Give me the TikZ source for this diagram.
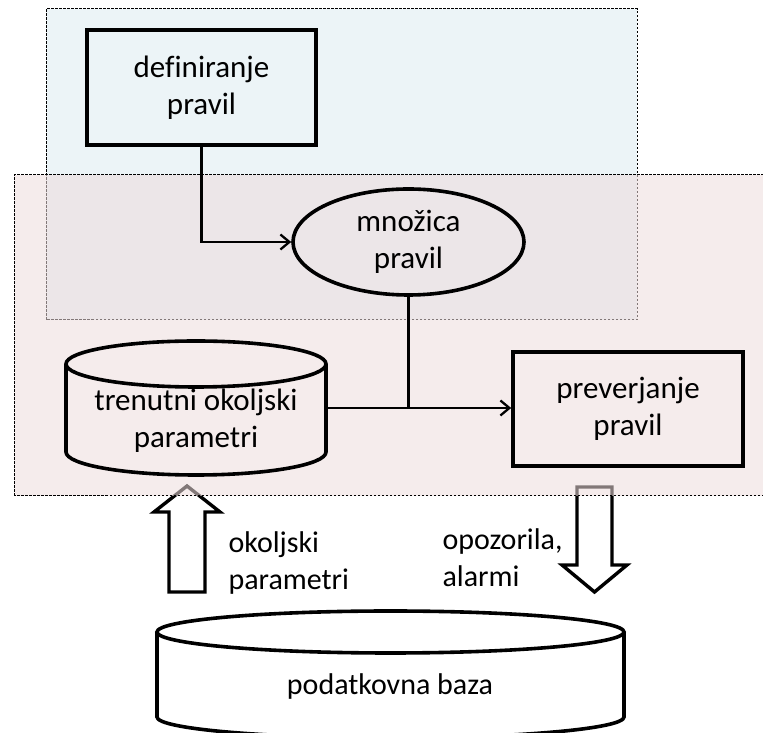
\documentclass[tikz,border=0pt]{standalone}
\usepackage{fontspec}
\setmainfont{Carlito}[Ligatures=NoCommon]
\usetikzlibrary{arrows.meta,shapes.geometric}
\definecolor{bluebg}{RGB}{236,244,247}
\definecolor{pinkbg}{RGB}{237,220,220}
\begin{document}
\begin{tikzpicture}[x=1pt,y=1pt,
 txt/.style={font=\fontsize{31}{37}\selectfont, align=center},
 labtxt/.style={font=\fontsize{30}{37}\selectfont, align=left},
 thickbox/.style={draw, line width=3.6pt, rectangle, txt, inner sep=0pt},
 conn/.style={line width=2.3pt, -{Straight Barb[length=9pt,width=15pt,line width=2.3pt]}},
 plainline/.style={line width=2.3pt},
 blockarrow/.style={draw, line width=3.4pt, fill=white, line join=miter},
 shapeline/.style={draw, line width=3.6pt},
 region/.style={line width=1pt, dash pattern=on 2.5pt off 1.5pt}
]
\useasboundingbox (0,0) rectangle (763,733);
\clip (0,0) rectangle (763,733);
% blue region
\fill[bluebg] (46,413) rectangle (637,724);
\draw[region] (46,413) rectangle (637,724);
% block arrows
\draw[blockarrow] (169,141) -- (169,221) -- (154,221) -- (187,247) -- (220,221) -- (205,221) -- (205,141) -- cycle;
\draw[blockarrow] (577,246) -- (577,168) -- (562,168) -- (594.5,141) -- (627,168) -- (612,168) -- (612,246) -- cycle;
% pink region
\fill[pinkbg, fill opacity=0.55] (14,237) rectangle (770,558);
\draw[region] (14,237) rectangle (770,558);
% nodes
\node[thickbox, minimum width=229pt, minimum height=115pt] (def) at (201.5,645.5) {definiranje\\pravil};
\node[ellipse, draw, line width=3.6pt, txt, inner sep=0pt, minimum width=231pt, minimum height=106pt] (mno) at (408.5,491) {množica\\pravil};
\node[thickbox, minimum width=230pt, minimum height=114pt] (pre) at (628,324) {preverjanje\\pravil};
% top cylinder
\draw[shapeline] (66,369) -- (66,281) arc[start angle=180,end angle=360,x radius=130,y radius=23] -- (326,369);
\draw[shapeline] (196,369) ellipse [x radius=130,y radius=23];
\node[inner sep=0pt, minimum width=260pt, minimum height=134pt] (tcyl) at (196,325) {};
\node[txt] (tcyltxt) at (196,312) {trenutni okoljski\\parametri};
% bottom cylinder
\draw[shapeline] (157,101) -- (157,16) arc[start angle=180,end angle=360,x radius=233.5,y radius=21] -- (624,101);
\draw[shapeline] (390.5,101) ellipse [x radius=233.5,y radius=21];
\node[inner sep=0pt, minimum width=467pt, minimum height=127pt] (bcyl) at (390.5,59) {};
\node[labtxt] (bcyltxt) at (390,46) {podatkovna baza};
% labels
\node[labtxt, anchor=west] (lab1) at (225,170) {okoljski\\parametri};
\node[labtxt, anchor=west] (lab2) at (439,175) {opozorila,\\alarmi};
% connectors
\draw[conn] (def.south) |- (mno.west);
\coordinate (jn) at (mno.south |- tcyl.east);
\draw[plainline] (mno.south) -- (jn);
\draw[conn] (tcyl.east) -- (tcyl.east -| pre.west);
\end{tikzpicture}
\end{document}
